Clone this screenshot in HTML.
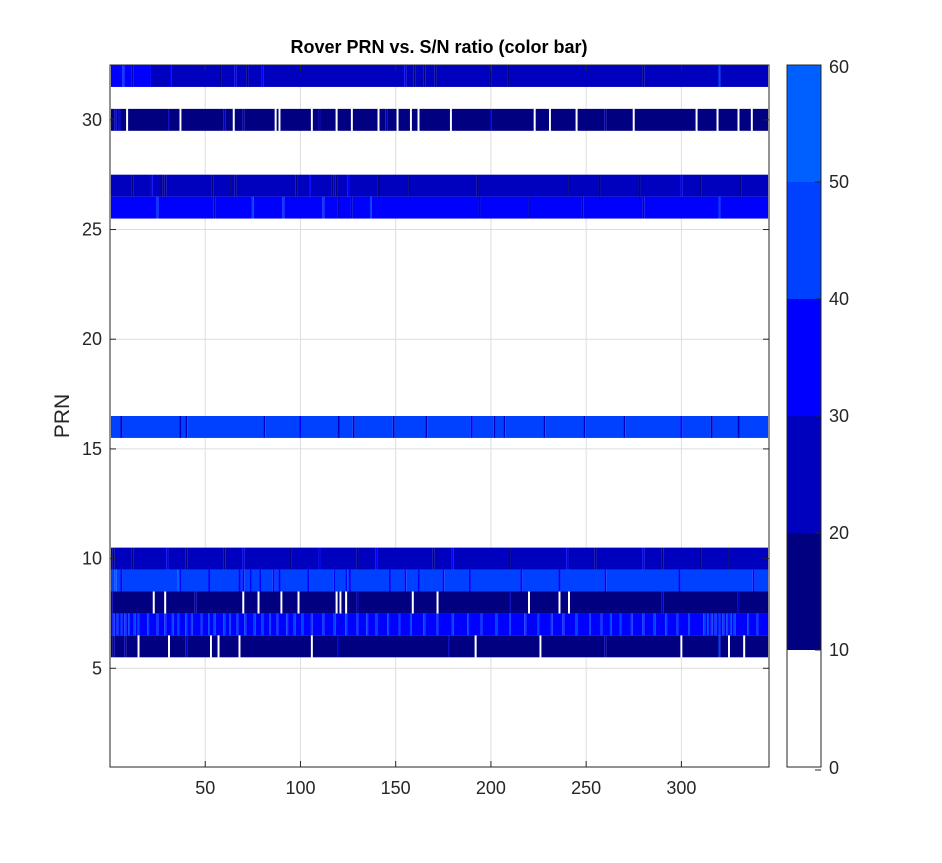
<!DOCTYPE html>
<html><head><meta charset="utf-8"><style>
html,body{margin:0;padding:0;background:#fff;}
svg{display:block;font-family:"Liberation Sans",sans-serif;}
</style></head><body>
<svg id="chart" width="942" height="863">
<rect width="942" height="863" fill="#fff"/>
<text x="439" y="53" text-anchor="middle" font-size="18" font-weight="bold" fill="#000">Rover PRN vs. S/N ratio (color bar)</text>
<text transform="translate(69,416) rotate(-90)" text-anchor="middle" font-size="21" fill="#262626">PRN</text>
<g id="grid"></g>
<g id="cells"></g>
<g id="axes"></g>
<g id="cbar"></g>
</svg>
<script>
const xTicks=[50,100,150,200,250,300];
const yTicks=[5,10,15,20,25,30];
const cbTicks=[0,10,20,30,40,50,60];
const nEpochs=345;
const prns=[6,7,8,9,10,16,26,27,30,32];
const baseValues=[15,35,15,45,25,45,35,25,15,25];
// exceptions per row: [epoch, value]; value 0 = no data (white)
const exceptions6=[[15,0],[31,0],[53,0],[57,0],[68,0],[106,0],[192,0],[226,0],[300,0],[325,0],[333,0],[2,25],[8,25],[40,25],[120,25],[178,25],[260,25],[320,45]];
const exceptions7=[[2,45],[4,45],[6,45],[8,45],[10,45],[13,45],[15,45],[20,45],[25,45],[29,45],[33,45],[36,45],[40,45],[43,45],[48,45],[52,45],[55,45],[60,45],[63,45],[67,45],[71,45],[76,45],[80,45],[84,45],[88,45],[93,45],[97,45],[101,45],[106,45],[112,45],[118,45],[124,45],[130,45],[135,45],[140,45],[146,45],[152,45],[158,45],[165,45],[172,45],[180,45],[188,45],[195,45],[203,45],[210,45],[218,45],[225,45],[232,45],[238,45],[245,45],[252,45],[258,45],[263,45],[268,45],[274,45],[280,45],[286,45],[292,45],[298,45],[304,45],[312,45],[314,45],[316,45],[318,45],[320,45],[322,45],[324,45],[326,45],[328,45],[335,45],[340,45]];
const exceptions8=[[23,0],[29,0],[70,0],[78,0],[90,0],[99,0],[119,0],[121,0],[124,0],[159,0],[172,0],[220,0],[236,0],[241,0],[1,25],[45,25],[130,25],[210,25],[290,25],[330,25]];
const exceptions9=[[6,35],[37,35],[52,35],[68,35],[70,35],[74,35],[79,35],[86,35],[89,35],[104,35],[118,35],[124,35],[126,35],[147,35],[155,35],[162,35],[175,35],[189,35],[216,35],[236,35],[260,35],[299,35],[338,35],[3,55],[36,55]];
const exceptions10=[[2,15],[12,15],[40,15],[60,15],[95,15],[130,15],[170,15],[210,15],[255,15],[290,15],[310,15],[325,15],[30,35],[70,35],[110,35],[140,35],[180,35],[240,35],[280,35]];
const exceptions16=[[6,25],[37,25],[40,25],[81,25],[120,25],[128,25],[149,25],[166,25],[202,25],[207,25],[228,25],[249,25],[270,25],[316,25],[330,25],[100,35],[190,35],[300,35]];
const exceptions26=[[25,45],[75,45],[91,45],[112,45],[137,45],[55,25],[120,25],[127,25],[194,25],[220,25],[248,25],[280,25],[320,45]];
const exceptions27=[[12,15],[27,15],[29,15],[54,15],[63,15],[66,15],[98,15],[117,15],[119,15],[141,15],[157,15],[193,15],[241,15],[257,15],[278,15],[310,15],[331,15],[22,35],[105,35],[125,35],[300,35]];
const exceptions30=[[9,0],[37,0],[65,0],[87,0],[89,0],[106,0],[119,0],[127,0],[141,0],[151,0],[158,0],[162,0],[179,0],[223,0],[231,0],[245,0],[275,0],[308,0],[319,0],[330,0],[337,0],[3,35],[5,35],[31,25],[60,25],[70,25],[110,25],[145,25],[200,25],[260,25]];
const exceptions32=[[1,35],[2,35],[3,35],[4,35],[5,35],[6,35],[7,45],[8,35],[9,35],[10,35],[11,35],[13,35],[14,35],[15,35],[16,35],[17,35],[18,35],[19,35],[20,35],[21,35],[32,35],[58,15],[66,35],[72,15],[80,35],[155,35],[160,15],[165,15],[171,15],[209,15],[280,15],[320,45],[200,15]];
const allExceptions=[exceptions6,exceptions7,exceptions8,exceptions9,exceptions10,exceptions16,exceptions26,exceptions27,exceptions30,exceptions32];

const L=110,R=769,T=65,B=767;
const xMin=0,xMax=346,yMin=0.5,yMax=32.5;
const xs=v=>L+(v-xMin)/(xMax-xMin)*(R-L);
const ys=v=>B-(v-yMin)/(yMax-yMin)*(B-T);
function color(v){
  if(v<10) return '#ffffff';
  if(v<20) return '#000080';
  if(v<30) return '#0000bf';
  if(v<40) return '#0000ff';
  if(v<50) return '#0040ff';
  return '#0060ff';
}
const NS='http://www.w3.org/2000/svg';
function mk(tag,attrs,parent){const e=document.createElementNS(NS,tag);for(const k in attrs)e.setAttribute(k,attrs[k]);parent.appendChild(e);return e;}
const grid=document.getElementById('grid'),cells=document.getElementById('cells'),axes=document.getElementById('axes'),cbar=document.getElementById('cbar');
for(const t of xTicks){const l=mk('line',{x1:xs(t),x2:xs(t),y1:T,y2:B,stroke:'#dedede','stroke-width':1},grid);

}
for(const t of yTicks){const l=mk('line',{x1:L,x2:R,y1:ys(t),y2:ys(t),stroke:'#dedede','stroke-width':1},grid);

}
prns.forEach((p,i)=>{
  const vals=new Array(nEpochs).fill(baseValues[i]);
  for(const [e,v] of allExceptions[i]) if(e>=1&&e<=nEpochs) vals[e-1]=v;
  const y0=ys(p+0.5),y1=ys(p-0.5);
  let s=0;
  while(s<nEpochs){
    let e=s; while(e+1<nEpochs&&color(vals[e+1])===color(vals[s])) e++;
    const x0=xs(s+0.5),x1=xs(e+1.5);
    const r=mk('rect',{x:x0,y:y0,width:x1-x0,height:y1-y0,fill:color(vals[s])},cells);
    
    
    s=e+1;
  }
});
const fr=mk('rect',{x:L,y:T,width:R-L,height:B-T,fill:'none',stroke:'#262626','stroke-width':1},axes);


for(const t of xTicks){
  mk('line',{x1:xs(t),x2:xs(t),y1:B,y2:B-6,stroke:'#262626'},axes);
  mk('line',{x1:xs(t),x2:xs(t),y1:T,y2:T+6,stroke:'#262626'},axes);
  const tx=mk('text',{x:xs(t),y:B+27,'text-anchor':'middle','font-size':18,fill:'#262626'},axes);
  tx.textContent=t;
  
  
}
for(const t of yTicks){
  mk('line',{x1:L,x2:L+6,y1:ys(t),y2:ys(t),stroke:'#262626'},axes);
  mk('line',{x1:R,x2:R-6,y1:ys(t),y2:ys(t),stroke:'#262626'},axes);
  const tx=mk('text',{x:L-8,y:ys(t)+6,'text-anchor':'end','font-size':18,fill:'#262626'},axes);
  tx.textContent=t;
  
  
}
const CL=787,CR=821,cMin=0,cMax=60;
const cs=v=>B-(v-cMin)/(cMax-cMin)*(B-T);
for(let k=0;k<cbTicks.length-1;k++){
  const a=cbTicks[k],b=cbTicks[k+1];
  const r=mk('rect',{x:CL,y:cs(b),width:CR-CL,height:cs(a)-cs(b),fill:color((a+b)/2)},cbar);
  
  
}
const cf=mk('rect',{x:CL,y:T,width:CR-CL,height:B-T,fill:'none',stroke:'#262626'},cbar);


for(const t of cbTicks){
  mk('line',{x1:CR,x2:CR-6,y1:cs(t)-(t===0?-3:0),y2:cs(t)-(t===0?-3:0),stroke:'#262626'},cbar);
  const tx=mk('text',{x:CR+8,y:cs(t)+6-(t===0?-1:0)+(t===60?2:0),'font-size':18,fill:'#262626'},cbar);
  tx.textContent=t;
  
  
}
</script>
</body></html>
